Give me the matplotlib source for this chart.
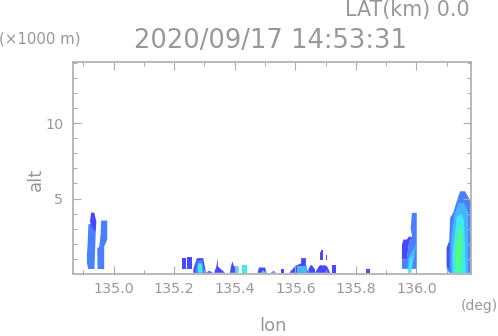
import matplotlib
matplotlib.use('Agg')
from matplotlib import pyplot as plt

TITLE = '2020/09/17 14:53:31'
LAT_LABEL = 'LAT(km) 0.0'
X_TICKS = [135.0, 135.2, 135.4, 135.6, 135.8, 136.0]
X_TICK_LABELS = ['135.0', '135.2', '135.4', '135.6', '135.8', '136.0']
Y_TICKS = [5, 10]

C1 = '#4848ff'
C2 = '#4880ff'
C3 = '#48b4ff'
C4 = '#40e8f0'
C5 = '#40f8b0'
C6 = '#58ff70'

# echo outlines as (colour, lon, alt), painted in order
CELLS = [
    # two columns near 134.93
    (C2, [134.916, 134.937, 134.939, 134.941, 134.928, 134.917, 134.914, 134.912, 134.912],
         [0.33, 0.33, 1.62, 2.75, 3.3, 3.3, 1.95, 1.3, 0.76]),
    (C1, [134.926, 134.941, 134.943, 134.936, 134.926, 134.922],
         [3.2, 2.75, 3.48, 4.07, 4.07, 3.48]),
    (C2, [134.947, 134.969, 134.969, 134.979, 134.979, 134.959, 134.957, 134.952, 134.946],
         [0.33, 0.33, 1.82, 2.28, 3.54, 3.54, 2.6, 1.75, 1.75]),
    # cell at 136.0
    (C2, [135.952, 136.001, 136.001, 135.985, 135.981, 135.985, 135.976, 135.968, 135.952],
         [0.34, 0.34, 4.05, 4.05, 3.06, 2.5, 2.17, 0.96, 0.96]),
    (C1, [135.952, 135.968, 135.976, 135.985, 135.976, 135.968, 135.957, 135.952],
         [0.96, 0.96, 2.17, 2.4, 2.5, 2.28, 2.28, 1.95]),
    (C3, [135.970, 135.985, 135.994, 135.998, 135.985, 135.973],
         [0.3, 0.3, 1.18, 1.95, 1.51, 1.07]),
    (C4, [135.972, 135.983, 135.987, 135.979], [0.08, 0.08, 1.18, 1.07]),
    # big cell at 136.14
    (C2, [136.108, 136.179, 136.179, 136.160, 136.144, 136.133, 136.121, 136.111, 136.108, 136.100, 136.100],
         [0.08, 0.08, 4.82, 5.48, 5.48, 4.82, 4.05, 3.72, 2.17, 1.73, 0.34]),
    (C1, [136.100, 136.108, 136.108, 136.100], [1.73, 2.17, 0.34, 0.52]),
    (C3, [136.114, 136.171, 136.171, 136.157, 136.138, 136.127, 136.121, 136.114],
         [0.08, 0.08, 4.05, 4.71, 4.71, 4.05, 3.39, 2.17]),
    (C4, [136.121, 136.163, 136.157, 136.149, 136.133, 136.127, 136.119],
         [0.08, 0.08, 3.61, 3.94, 3.83, 2.73, 1.18]),
    (C5, [136.130, 136.152, 136.152, 136.148, 136.138, 136.130],
         [0.08, 0.08, 2.28, 3.28, 3.17, 1.84]),
    (C6, [136.130, 136.138, 136.149, 136.146, 136.137, 136.130],
         [0.3, 0.3, 1.84, 2.95, 2.5, 1.18]),
    # low echoes along the ground
    (C1, [135.227, 135.238, 135.238, 135.227], [0.32, 0.32, 1.05, 1.05]),
    (C1, [135.244, 135.258, 135.258, 135.244], [0.32, 0.32, 1.1, 1.1]),
    (C1, [135.263, 135.305, 135.296, 135.275, 135.263], [0.08, 0.08, 1.05, 1.05, 0.3]),
    (C2, [135.268, 135.300, 135.294, 135.277], [0.08, 0.08, 0.9, 0.9]),
    (C4, [135.277, 135.294, 135.292, 135.279], [0.08, 0.08, 0.7, 0.7]),
    (C1, [135.305, 135.329, 135.315], [0.08, 0.08, 0.21]),
    (C1, [135.332, 135.368, 135.350, 135.345, 135.343, 135.340], [0.08, 0.08, 0.4, 0.5, 1.05, 0.55]),
    (C1, [135.384, 135.412, 135.412, 135.398, 135.392, 135.388], [0.08, 0.08, 0.5, 0.5, 0.83, 0.55]),
    (C4, [135.401, 135.412, 135.412, 135.401], [0.08, 0.08, 0.54, 0.54]),
    (C4, [135.425, 135.441, 135.441, 135.425], [0.08, 0.08, 0.58, 0.58]),
    (C1, [135.475, 135.506, 135.500, 135.480], [0.08, 0.08, 0.43, 0.43]),
    (C5, [135.488, 135.500, 135.494], [0.08, 0.08, 0.25]),
    (C1, [135.519, 135.536, 135.528], [0.08, 0.08, 0.2]),
    (C5, [135.523, 135.532, 135.528], [0.08, 0.08, 0.14]),
    (C1, [135.553, 135.563, 135.563, 135.553], [0.08, 0.08, 0.32, 0.32]),
    (C1, [135.580, 135.643, 135.635, 135.635, 135.619, 135.619, 135.600, 135.590],
         [0.08, 0.08, 0.54, 1.05, 1.05, 0.7, 0.54, 0.3]),
    (C3, [135.605, 135.640, 135.640, 135.605], [0.08, 0.08, 0.54, 0.54]),
    (C1, [135.643, 135.665, 135.665, 135.655, 135.650, 135.643], [0.08, 0.08, 0.3, 0.58, 0.58, 0.3]),
    (C1, [135.665, 135.715, 135.705, 135.695, 135.690, 135.682, 135.676],
         [0.08, 0.08, 0.5, 0.6, 0.55, 0.6, 0.45]),
    (C1, [135.721, 135.733, 135.733, 135.721], [0.08, 0.08, 0.58, 0.58]),
    (C1, [135.833, 135.847, 135.847, 135.833], [0.08, 0.08, 0.32, 0.32]),
    (C1, [135.682, 135.692, 135.692, 135.682], [0.96, 0.96, 1.47, 1.47]),
    (C1, [135.686, 135.690, 135.690, 135.686], [1.29, 1.29, 1.56, 1.56]),
    (C1, [135.700, 135.704, 135.704, 135.700], [0.91, 0.91, 1.29, 1.29]),
]

GRAY = '#989898'
FRAME = '#adadad'

fig = plt.figure(figsize=(4.98, 3.36), dpi=100)
ax = fig.add_axes([73 / 498, 1 - 274 / 336, 398 / 498, 212 / 336])

for colour, lon, alt in CELLS:
    ax.fill(lon, alt, color=colour, lw=0)

ax.set_xlim(134.866, 136.18)
ax.set_ylim(0, 14.04)
ax.set_xticks(X_TICKS, X_TICK_LABELS)
ax.set_yticks(Y_TICKS)
ax.set_xticks([134.9 + 0.1 * i for i in range(13) if i % 2 == 0], minor=True)
ax.set_yticks([i for i in range(1, 15) if i % 5], minor=True)
ax.tick_params(axis='x', which='major', pad=6)
ax.tick_params(axis='y', which='major', pad=7)
ax.tick_params(which='major', direction='in', length=5.8, width=0.8, color=FRAME,
               labelcolor=GRAY, labelsize=10.3, top=True, right=True)
ax.tick_params(which='minor', direction='in', length=2.9, width=0.8, color=FRAME,
               top=True, right=True)
for s in ax.spines.values():
    s.set_color(FRAME)
    s.set_linewidth(1.2)

fig.text(272.5 / 498, 0.002, 'lon', color=GRAY, fontsize=13, ha='center', va='bottom')
fig.text(36 / 498, 1 - 168 / 336, 'alt', color=GRAY, fontsize=13, rotation=90,
         ha='right', va='center', rotation_mode='anchor')

fig.text(271 / 498, 1 - 48 / 336, TITLE, color=GRAY, fontsize=18.5, ha='center', va='baseline')
fig.text(407.5 / 498, 1 - 16 / 336, LAT_LABEL, color=GRAY, fontsize=14.9, ha='center', va='baseline')
fig.text(40 / 498, 1 - 43 / 336, '(×1000 m)', color=GRAY, fontsize=10.8, ha='center', va='baseline')
fig.text(479 / 498, 1 - 310 / 336, '(deg)', color=GRAY, fontsize=10, ha='center', va='baseline')

fig.savefig('out.png', dpi=100)
